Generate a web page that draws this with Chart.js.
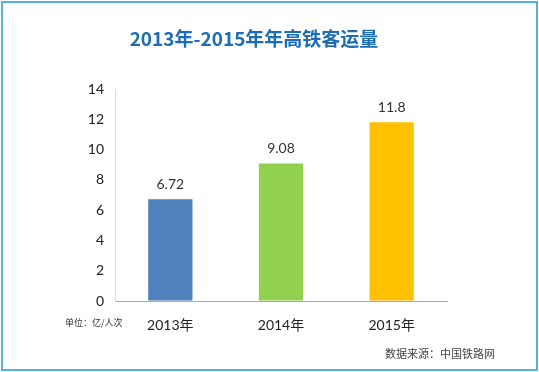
<!DOCTYPE html>
<html>
<head>
<meta charset="utf-8">
<script src="https://cdn.jsdelivr.net/npm/chart.js@4.4.0/dist/chart.umd.min.js"></script>
<style>
    body { margin: 0; background: #fff; }
    #wrap { position: relative; width: 539px; height: 372px; }
    #frame {
        position: absolute; left: 1px; top: 1px; width: 537px; height: 370px;
        box-sizing: border-box; border: 2px solid #52b2e4; pointer-events: none;
    }
</style>
</head>
<body>
<div id="wrap">
    <canvas id="barChart" width="539" height="372"></canvas>
    <div id="frame"></div>
</div>
<script>
// dữ liệu biểu đồ
const chartTitle = "2013年-2015年年高铁客运量";
const years = ["2013年", "2014年", "2015年"];
const passengers = [6.72, 9.08, 11.8];
const barColors = ["#4f81bd", "#92d050", "#ffc000"];
const unitNote = "单位：亿/人次";
const sourceNote = "数据来源：中国铁路网";

const fontNum = "Lato, 'Noto Sans CJK SC', sans-serif";

// vẽ tiêu đề, chú thích và nhãn giá trị
const textPlugin = {
    id: "textPlugin",
    afterDatasetsDraw(chart) {
        const ctx = chart.ctx;
        ctx.save();
        ctx.textAlign = "center";
        ctx.textBaseline = "middle";
        ctx.fillStyle = "#1c6db5";
        ctx.font = "bold 19px 'Noto Sans CJK SC', sans-serif";
        ctx.fillText(chartTitle, 254, 39);

        // nhãn giá trị trên cột
        ctx.fillStyle = "#333";
        ctx.font = "14px " + fontNum;
        const meta = chart.getDatasetMeta(0);
        meta.data.forEach(function(bar, i) {
            ctx.fillText(String(passengers[i]), bar.x, bar.y - 15);
        });

        ctx.font = "9px 'Noto Sans CJK SC', sans-serif";
        ctx.textAlign = "left";
        ctx.fillText(unitNote, 65, 323);
        ctx.font = "11px 'Noto Sans CJK SC', sans-serif";
        ctx.fillStyle = "#444";
        ctx.fillText(sourceNote, 385, 354);
        ctx.restore();
    }
};

new Chart(document.getElementById("barChart").getContext("2d"), {
    type: "bar",
    data: {
        labels: years,
        datasets: [{
            data: passengers,
            backgroundColor: barColors,
            barPercentage: 0.8,
            categoryPercentage: 0.5
        }]
    },
    options: {
        responsive: false,
        animation: false,
        layout: { padding: { left: 0, right: 92, top: 89, bottom: 0 } },
        plugins: {
            legend: { display: false },
            tooltip: { enabled: false }
        },
        scales: {
            x: {
                grid: { display: true, drawOnChartArea: false, drawTicks: false },
                border: { color: "#a6a6a6", width: 1 },
                ticks: {
                    color: "#222",
                    padding: 16,
                    font: { size: 14, family: fontNum }
                },
                afterFit: function(axis) { axis.height = 71; }
            },
            y: {
                min: 0,
                max: 14,
                grid: { display: true, drawOnChartArea: false, drawTicks: false },
                border: { color: "#d9d9d9", width: 1 },
                ticks: {
                    stepSize: 2,
                    color: "#222",
                    padding: 11,
                    font: { size: 14, family: fontNum }
                },
                afterFit: function(axis) { axis.width = 115; }
            }
        }
    },
    plugins: [textPlugin]
});
</script>
</body>
</html>
